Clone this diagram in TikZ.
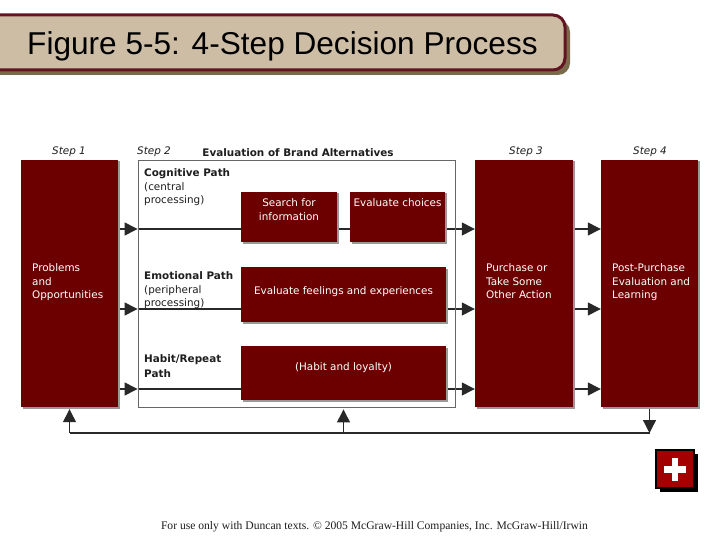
\documentclass[tikz,border=0pt]{standalone}
\usepackage{fontspec}
\setmainfont{DejaVu Sans}
\newfontfamily\titlefont{Liberation Sans}
\newfontfamily\footfont{Liberation Serif}
\usetikzlibrary{arrows.meta,shadows}
\definecolor{boxred}{RGB}{108,0,0}
\definecolor{plusred}{RGB}{165,0,0}
\definecolor{bannerfill}{RGB}{205,189,165}
\definecolor{bannerline}{RGB}{98,20,34}
\definecolor{bannershadow}{RGB}{122,106,76}
\definecolor{linegray}{RGB}{40,40,40}
\definecolor{txtgray}{RGB}{30,30,30}
\pgfdeclarelayer{back}
\pgfdeclarelayer{bg}
\pgfsetlayers{back,bg,main}
\begin{document}
\begin{tikzpicture}[x=1pt,y=-1pt,
  redbox/.style={draw=none, fill=boxred, inner sep=0pt,
    drop shadow={shadow xshift=1.5pt, shadow yshift=-1.5pt, fill=black!40, opacity=1}},
  pathbox/.style={draw=black!60, line width=0.9pt, inner sep=0pt},
  conn/.style={draw=linegray, line width=1.3pt, -{Triangle[length=13pt,width=13pt]}},
  plainline/.style={draw=linegray, line width=1.3pt},
  lbl/.style={inner sep=0pt, font=\fontsize{10.4}{13.5}\selectfont, align=left, anchor=north west, text=txtgray},
  wlbl/.style={lbl, text=white},
  wctr/.style={inner sep=0pt, font=\fontsize{10.4}{13.5}\selectfont, align=center, anchor=north, text=white},
  steplbl/.style={inner sep=0pt, font=\fontsize{10.4}{12}\selectfont\itshape, anchor=base, text=txtgray},
  plusbtn/.style={fill=plusred, draw=black, line width=2pt, minimum size=38pt, inner sep=0pt,
    drop shadow={shadow xshift=3.5pt, shadow yshift=-3.5pt, fill=black, opacity=1},
    path picture={
      \fill[white] ([xshift=-11pt,yshift=-3.5pt]path picture bounding box.center) rectangle ([xshift=11pt,yshift=3.5pt]path picture bounding box.center);
      \fill[white] ([xshift=-3.2pt,yshift=-11.5pt]path picture bounding box.center) rectangle ([xshift=3.2pt,yshift=11.5pt]path picture bounding box.center);
    }}
]
\clip (0,0) rectangle (720,540);
\begin{pgfonlayer}{back}
\fill[white] (0,0) rectangle (720,540);
\end{pgfonlayer}

% title banner
\fill[bannershadow, rounded corners=12pt] (-20,20) rectangle (570,75);
\draw[fill=bannerfill, draw=bannerline, line width=3pt, rounded corners=12pt] (-20,15) rectangle (565,70);
\node[anchor=base, inner sep=0pt, font=\titlefont\fontsize{31.6}{36}\selectfont] (title) at (282.5,55) {Figure 5-5: 4-Step Decision Process};

% step boxes
\node[redbox, minimum width=97pt, minimum height=247pt] (s1) at (69.5,283.5) {};
\node[pathbox, minimum width=317pt, minimum height=247pt] (s2) at (296.5,283.5) {};
\node[redbox, minimum width=98pt, minimum height=247pt] (s3) at (524,283.5) {};
\node[redbox, minimum width=97pt, minimum height=247pt] (s4) at (649.5,283.5) {};

% inner boxes
\node[redbox, minimum width=96pt, minimum height=50pt] (sf) at (289,217) {};
\node[redbox, minimum width=95pt, minimum height=50pt] (ec) at (397.5,217) {};
\node[redbox, minimum width=205pt, minimum height=55pt] (ef) at (343.5,294.5) {};
\node[redbox, minimum width=205pt, minimum height=54pt] (hb) at (343.5,373) {};

% step labels
\node[steplbl] (l1) at (69,154.5) {Step 1};
\node[steplbl] (l2) at (154,154.5) {Step 2};
\node[steplbl] (l3) at (526,154.5) {Step 3};
\node[steplbl] (l4) at (650,154.5) {Step 4};
\node[inner sep=0pt, anchor=base, font=\fontsize{10.4}{12}\selectfont\bfseries, text=txtgray] (eval) at (298,156.5) {Evaluation of Brand Alternatives};

% step texts
\node[wlbl] (t1) at (32,263.7) {Problems\\and\\Opportunities};
\node[wlbl] (t3) at (486,263.7) {Purchase or\\Take Some\\Other Action};
\node[wlbl] (t4) at (612,263.7) {Post-Purchase\\Evaluation and\\Learning};

% path labels
\node[lbl] (cog) at (144,168.7) {\textbf{Cognitive Path}\\(central\\processing)};
\node[lbl] (emo) at (144,271.7) {\textbf{Emotional Path}\\(peripheral\\processing)};
\node[lbl, font=\fontsize{10.4}{15}\selectfont\bfseries] (hab) at (144,354.7) {Habit/Repeat\\Path};

% inner texts
\node[wctr] (tsf) at (289,198.7) {Search for\\information};
\node[wctr] (tec) at (397.5,198.7) {Evaluate choices};
\node[wctr] (tef) at (343.5,286.7) {Evaluate feelings and experiences};
\node[wctr] (thb) at (343.5,362.7) {(Habit and loyalty)};

% footer
\node[inner sep=0pt, font=\footfont\fontsize{11.6}{13}\selectfont, text=txtgray] (foot) at (374.5,527) {For use only with Duncan texts. \textcopyright{} 2005 McGraw-Hill Companies, Inc. McGraw-Hill/Irwin};

% plus button
\node[plusbtn] (plus) at (675,469) {};

% connectors
\coordinate (ycog) at (0,229);
\coordinate (yemo) at (0,309);
\coordinate (yhab) at (0,389);
\coordinate (fb) at (0,433);
\begin{pgfonlayer}{bg}
\foreach \yy in {ycog,yemo,yhab} {
  \draw[conn] (s1.east |- \yy) -- (s2.west |- \yy);
  \draw[conn] (s2.west |- \yy) -- (s3.west |- \yy);
  \draw[conn] (s3.east |- \yy) -- (s4.west |- \yy);
}
\draw[plainline] (s1.south |- fb) -- (s4.south |- fb);
\draw[conn, shorten >=2pt] (s1.south |- fb) -- (s1.south);
\draw[conn, shorten >=2pt] (hb.south |- fb) -- (s2.south -| hb.south);
\draw[conn] (s4.south) -- (s4.south |- fb);
\end{pgfonlayer}
\end{tikzpicture}
\end{document}
